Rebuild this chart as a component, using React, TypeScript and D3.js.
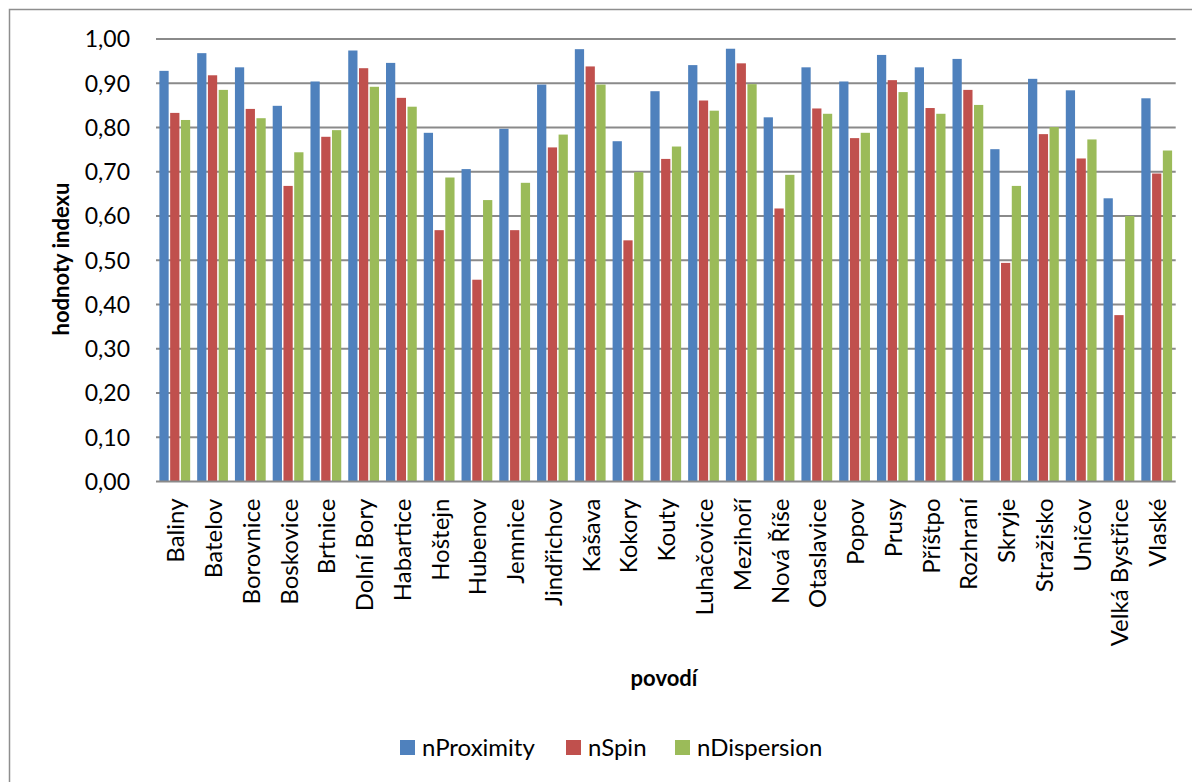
import React, { useEffect, useRef } from "react";
import * as d3 from "d3";

const categories = [
  "Baliny", "Batelov", "Borovnice", "Boskovice", "Brtnice", "Dolní Bory", "Habartice",
  "Hoštejn", "Hubenov", "Jemnice", "Jindřichov", "Kašava", "Kokory", "Kouty",
  "Luhačovice", "Mezihoří", "Nová Říše", "Otaslavice", "Popov", "Prusy", "Příštpo",
  "Rozhraní", "Skryje", "Stražisko", "Uničov", "Velká Bystřice", "Vlaské",
];

const nProximity = [
  0.928, 0.968, 0.936, 0.849, 0.904, 0.974, 0.946, 0.788, 0.706, 0.797, 0.897, 0.977,
  0.769, 0.882, 0.941, 0.978, 0.823, 0.936, 0.904, 0.964, 0.936, 0.955, 0.751, 0.910,
  0.884, 0.640, 0.866,
];
const nSpin = [
  0.833, 0.918, 0.842, 0.668, 0.779, 0.934, 0.867, 0.568, 0.456, 0.568, 0.755, 0.938,
  0.545, 0.729, 0.861, 0.945, 0.617, 0.843, 0.776, 0.907, 0.844, 0.885, 0.494, 0.785,
  0.730, 0.376, 0.696,
];
const nDispersion = [
  0.817, 0.885, 0.821, 0.744, 0.794, 0.892, 0.847, 0.687, 0.636, 0.675, 0.784, 0.897,
  0.699, 0.757, 0.838, 0.898, 0.693, 0.831, 0.788, 0.880, 0.831, 0.851, 0.668, 0.801,
  0.773, 0.600, 0.748,
];

const seriesNames = ["nProximity", "nSpin", "nDispersion"];
const seriesColors = ["#4F81BD", "#C0504D", "#9BBB59"];
const yTicks = [0, 0.1, 0.2, 0.3, 0.4, 0.5, 0.6, 0.7, 0.8, 0.9, 1.0];

export default function App() {
  const ref = useRef<SVGSVGElement | null>(null);

  useEffect(() => {
    document.body.style.margin = "0";
    const svg = d3.select(ref.current);
    svg.selectAll("*").remove();
    const font = "Lato, 'Open Sans', sans-serif";
    const left = 156, right = 1175.7, top = 39, bottom = 481.5;

    const x0 = d3.scaleBand<string>().domain(categories).range([left, right]).paddingInner(0).paddingOuter(0);
    const bw = x0.bandwidth();
    const x1 = d3.scaleBand<string>().domain(seriesNames).range([3.4, bw - 3.6]).paddingInner(0.14).paddingOuter(0);
    const y = d3.scaleLinear().domain([0, 1]).range([bottom, top]);

    // chart border
    svg.append("rect").attr("x", 9.5).attr("y", 9.5).attr("width", 1300).attr("height", 900)
      .attr("fill", "white").attr("stroke", "#8e8e8e").attr("stroke-width", 1.5);

    // gridlines
    svg.append("g").selectAll("line").data(yTicks.slice(1)).join("line")
      .attr("x1", left).attr("x2", right)
      .attr("y1", d => y(d)).attr("y2", d => y(d))
      .attr("stroke", "#8a8a8a").attr("stroke-width", 1.8);

    // y tick labels
    svg.append("g").selectAll("text").data(yTicks).join("text")
      .attr("x", 130).attr("y", d => y(d)).attr("dy", "0.36em")
      .attr("text-anchor", "end").attr("font-family", font).attr("font-size", 23)
      .attr("fill", "#000").text(d => d3.format(".2f")(d).replace(".", ","));

    // bars
    const data = [nProximity, nSpin, nDispersion];
    const g = svg.append("g");
    categories.forEach((c, i) => {
      seriesNames.forEach((s, j) => {
        const v = data[j][i];
        g.append("rect")
          .attr("x", (x0(c) as number) + (x1(s) as number))
          .attr("y", y(v))
          .attr("width", x1.bandwidth())
          .attr("height", y(0) - y(v))
          .attr("fill", seriesColors[j]);
      });
    });

    // x axis line
    svg.append("line").attr("x1", left).attr("x2", right).attr("y1", bottom).attr("y2", bottom)
      .attr("stroke", "#8a8a8a").attr("stroke-width", 1.8);

    // category labels
    svg.append("g").selectAll("text").data(categories).join("text")
      .attr("transform", d => `translate(${(x0(d) as number) + bw / 2 + 1},${bottom + 17}) rotate(-90)`)
      .attr("dy", "0.35em").attr("text-anchor", "end")
      .attr("font-family", font).attr("font-size", 24).attr("fill", "#000")
      .text(d => d);

    // axis titles
    svg.append("text").attr("x", 664).attr("y", 686).attr("text-anchor", "middle")
      .attr("font-family", font).attr("font-size", 22).attr("font-weight", "bold").text("povodí");
    svg.append("text").attr("transform", "translate(69,259) rotate(-90)").attr("text-anchor", "middle")
      .attr("font-family", font).attr("font-size", 22).attr("font-weight", "bold").text("hodnoty indexu");

    // legend
    const legX = [400, 566, 675];
    seriesNames.forEach((s, j) => {
      svg.append("rect").attr("x", legX[j]).attr("y", 740).attr("width", 15).attr("height", 15)
        .attr("fill", seriesColors[j]);
      svg.append("text").attr("x", legX[j] + 22).attr("y", 756)
        .attr("font-family", font).attr("font-size", 24).attr("fill", "#000").text(s);
    });
  }, []);

  return (
    <svg ref={ref} width={1192} height={782}
      style={{ position: "absolute", left: 0, top: 0, display: "block", background: "white" }} />
  );
}
